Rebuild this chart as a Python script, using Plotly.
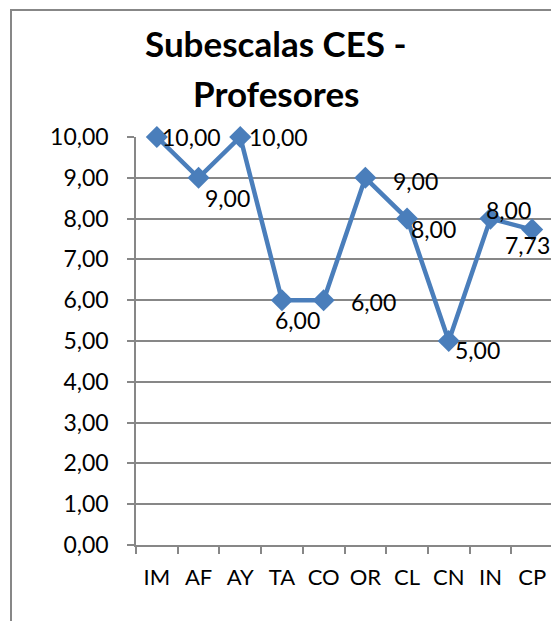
import plotly.graph_objects as go

categories = ["IM", "AF", "AY", "TA", "CO", "OR", "CL", "CN", "IN", "CP"]
values = [10.00, 9.00, 10.00, 6.00, 6.00, 9.00, 8.00, 5.00, 8.00, 7.73]
labels = ["10,00", "9,00", "10,00", "6,00", "6,00", "9,00", "8,00", "5,00", "8,00", "7,73"]
y_ticks = [0, 1, 2, 3, 4, 5, 6, 7, 8, 9, 10]
y_tick_text = ["0,00", "1,00", "2,00", "3,00", "4,00", "5,00", "6,00", "7,00", "8,00", "9,00", "10,00"]

# label offsets in pixels (style)
label_shift = [(3, 0), (4, -20), (7, 0), (-9, -20), (25, -2), (26, -3), (2, -10), (4, -9), (-6, 9), (-29, -15)]

# page body has an 8px margin, so figure coords = reference coords - 8
OFF = 8
W, H = 559 - OFF, 621 - OFF
L = 136 - OFF
T = 137 - OFF
R = W - (553 - OFF)
B = H - (545 - OFF)
pw = W - L - R
ph = H - T - B

FONT = "Lato, 'Open Sans', sans-serif"
BLUE = "#4A7EBB"
GRAY = "#878787"

fig = go.Figure()
fig.add_trace(go.Scatter(
    x=categories, y=values, mode="lines+markers",
    line=dict(color=BLUE, width=4.5),
    marker=dict(symbol="diamond", size=17, color=BLUE),
    hoverinfo="skip", showlegend=False, cliponaxis=False,
))

for c, v, t, (dx, dy) in zip(categories, values, labels, label_shift):
    fig.add_annotation(x=c, y=v, text=t, showarrow=False, xanchor="left", yanchor="middle",
                       xshift=dx, yshift=dy, font=dict(family=FONT, size=23, color="#000"))

def px_x(p):
    return (p - OFF - L) / pw

def px_y(p):
    return (H - B - (p - OFF)) / ph

fig.add_annotation(xref="paper", yref="paper", x=px_x(276), y=px_y(43), text="<b>Subescalas CES -</b>",
                   showarrow=False, xanchor="center", yanchor="middle",
                   font=dict(family=FONT, size=35, color="#000"))
fig.add_annotation(xref="paper", yref="paper", x=px_x(276), y=px_y(93), text="<b>Profesores</b>",
                   showarrow=False, xanchor="center", yanchor="middle",
                   font=dict(family=FONT, size=35, color="#000"))

fig.add_shape(type="rect", xref="paper", yref="paper",
              x0=px_x(11), y0=px_y(700), x1=px_x(700), y1=px_y(10),
              line=dict(color=GRAY, width=2), fillcolor="rgba(0,0,0,0)", layer="below")

fig.update_layout(
    width=W, height=H, margin=dict(l=L, r=R, t=T, b=B, autoexpand=False),
    paper_bgcolor="white", plot_bgcolor="white",
    font=dict(family=FONT, size=20, color="#000"),
    xaxis=dict(type="category", range=[-0.5, 9.5], showgrid=False, showline=True, linecolor=GRAY,
               linewidth=1.5, ticks="outside", tickson="boundaries", ticklen=7, tickcolor=GRAY,
               tickwidth=1.5, ticklabelstandoff=12, tickfont=dict(family=FONT, size=22, color="#000"),
               zeroline=False, fixedrange=True, automargin=False),
    yaxis=dict(range=[0, 10], tickvals=y_ticks, ticktext=y_tick_text, showgrid=True, gridcolor=GRAY,
               gridwidth=1.5, showline=True, linecolor=GRAY, linewidth=1.5, ticks="outside", ticklen=7,
               tickcolor=GRAY, tickwidth=1.5, ticklabelstandoff=14,
               tickfont=dict(family=FONT, size=23, color="#000"), zeroline=False, fixedrange=True,
               automargin=False),
)

fig.write_html("out.html")
